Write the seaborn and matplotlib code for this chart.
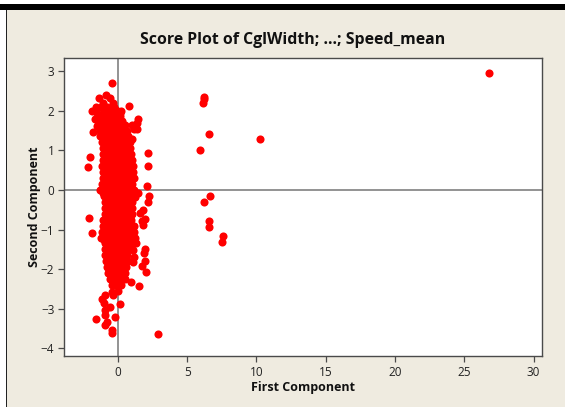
"""Score plot of the first two principal components."""

import matplotlib.pyplot as plt
import pandas as pd
import seaborn as sns
from matplotlib.patches import Rectangle

# far outliers to the right of the main cloud
outlier_x = [26.8, 6.2, 6.22, 6.15, 6.55, 5.95, 10.25, 6.65, 6.25, 6.6, 6.55, 7.6, 7.55, 2.87]
outlier_y = [2.95, 2.35, 2.3, 2.2, 1.42, 1.0, 1.28, -0.15, -0.3, -0.78, -0.93, -1.15, -1.32, -3.63]

# loose points around the edge of the cloud
edge_x = [-0.4, 0.81, 1.48, 1.36, 1.0, 1.41, 1.2, 1.02, 2.15, 2.15, 2.08, 2.27, 2.2, 1.84,
          -2.0, -2.15, 1.48, 1.23, -1.36, -0.87, -0.56, -0.32, -1.6, -1.84, -1.03, 0.2, 0.16,
          -1.77, -1.65, -1.5, -2.08, -1.86, -1.57, -0.92, -0.44, -0.44, -0.18, -0.92, -0.8,
          -0.92, -0.56, 0.16, -1.12, -0.92, -0.97, -0.44, -0.33, 0.04, 1.53, 0.95, -0.35,
          2.01, 1.72, 1.94, 1.92, 1.93, 1.07, 1.07, 1.17, 1.6, 1.96, 1.72, 1.84, 1.24, 1.31]
edge_y = [2.71, 2.13, 1.78, 1.68, 1.64, 1.53, 1.53, 1.29, 0.94, 0.6, 0.1, -0.15, -0.3, -0.5,
          0.83, 0.59, -0.07, -0.17, 2.31, 2.39, 2.32, 2.2, 2.1, 1.98, 2.2, 1.98, 1.87,
          1.47, 1.8, 1.62, -0.72, -1.09, -3.26, -3.41, -3.54, -3.6, -3.2, -3.15, -3.33,
          -3.03, -2.96, -2.88, -2.75, -2.65, -2.85, -2.57, -2.65, -2.54, -2.42, -2.31, -2.31,
          -2.06, -1.92, -1.8, -1.6, -1.49, -1.52, -1.83, -1.68, -0.57, -0.74, -0.78, -0.88, -1.22, -1.35]

# dense body of the cloud, read row by row from the top
row_y = [2.1, 1.95, 1.8, 1.65, 1.5, 1.35, 1.2, 1.05, 0.9, 0.75, 0.6, 0.45, 0.3, 0.15, 0.0, -0.15,
         -0.3, -0.45, -0.6, -0.75, -0.9, -1.05, -1.2, -1.35, -1.5, -1.65, -1.8, -1.95, -2.1, -2.25, -2.4]
row_x = [
    [-1.2, -0.75, -0.3],
    [-1.5, -0.9, -0.5, -0.1, 0.15],
    [-1.45, -0.7, -0.3, 0.1],
    [-1.4, -1.0, -0.6, -0.2, 0.2, 0.55],
    [-1.3, -0.9, -0.5, -0.1, 0.3, 0.7],
    [-1.25, -0.85, -0.45, -0.05, 0.35, 0.75],
    [-1.15, -0.75, -0.35, 0.05, 0.45, 0.85],
    [-1.1, -0.7, -0.3, 0.1, 0.5, 0.9],
    [-1.05, -0.65, -0.25, 0.15, 0.55, 0.95],
    [-1.1, -0.7, -0.3, 0.1, 0.5, 0.9, 1.05],
    [-1.15, -0.75, -0.35, 0.05, 0.45, 0.85, 1.1],
    [-1.05, -0.65, -0.25, 0.15, 0.55, 0.95, 1.1],
    [-1.1, -0.7, -0.3, 0.1, 0.5, 0.9, 1.15],
    [-1.15, -0.75, -0.35, 0.05, 0.45, 0.85, 1.05],
    [-1.25, -0.85, -0.45, -0.05, 0.35, 0.75, 1.2],
    [-1.0, -0.6, -0.2, 0.2, 0.6, 1.0, 1.15],
    [-0.95, -0.55, -0.15, 0.25, 0.65, 1.05],
    [-0.9, -0.5, -0.1, 0.3, 0.7, 1.05],
    [-0.95, -0.55, -0.15, 0.25, 0.65, 1.0],
    [-1.05, -0.65, -0.25, 0.15, 0.55, 0.95],
    [-1.1, -0.7, -0.3, 0.1, 0.5, 0.9, 1.15],
    [-1.15, -0.75, -0.35, 0.05, 0.45, 0.85, 1.15],
    [-1.2, -0.8, -0.4, 0.0, 0.4, 0.8, 1.1],
    [-0.95, -0.55, -0.15, 0.25, 0.65, 1.0],
    [-0.95, -0.55, -0.15, 0.25, 0.65, 0.85],
    [-0.9, -0.5, -0.1, 0.3, 0.7],
    [-0.85, -0.45, -0.05, 0.35, 0.75],
    [-0.8, -0.4, 0.0, 0.4, 0.6],
    [-0.7, -0.3, 0.1, 0.5],
    [-0.55, -0.2, 0.2, 0.5],
    [-0.45, -0.1, 0.2],
]

# points between those rows, closing the gaps in the solid part
core_y = [2.03, 1.88, 1.73, 1.58, 1.43, 1.28, 1.13, 0.98, 0.83, 0.68, 0.53, 0.38, 0.23, 0.08, -0.07, -0.22,
          -0.37, -0.52, -0.67, -0.82, -0.97, -1.12, -1.27, -1.42, -1.57, -1.72, -1.87, -2.02, -2.17, -2.32]
core_x = [
    [-1.0, -0.55, -0.1],
    [-1.2, -0.8, -0.35, 0.0],
    [-1.15, -0.85, -0.5, -0.1, 0.3],
    [-1.2, -0.8, -0.4, 0.0, 0.4],
    [-1.1, -0.7, -0.3, 0.1, 0.5],
    [-1.05, -0.65, -0.25, 0.15, 0.55],
    [-0.95, -0.55, -0.15, 0.25, 0.65],
    [-0.9, -0.5, -0.1, 0.3, 0.7],
    [-0.85, -0.45, -0.05, 0.35, 0.75],
    [-0.9, -0.5, -0.1, 0.3, 0.7],
    [-0.95, -0.55, -0.15, 0.25, 0.65],
    [-0.85, -0.45, -0.05, 0.35, 0.75],
    [-0.9, -0.5, -0.1, 0.3, 0.7],
    [-0.95, -0.55, -0.15, 0.25, 0.65, 0.95],
    [-1.05, -0.65, -0.25, 0.15, 0.55, 0.95],
    [-0.8, -0.4, 0.0, 0.4, 0.8],
    [-0.75, -0.35, 0.05, 0.45, 0.85],
    [-0.7, -0.3, 0.1, 0.5, 0.9],
    [-0.75, -0.35, 0.05, 0.45, 0.85],
    [-0.85, -0.45, -0.05, 0.35, 0.75],
    [-0.9, -0.5, -0.1, 0.3, 0.7],
    [-0.95, -0.55, -0.15, 0.25, 0.65, 1.0],
    [-1.0, -0.6, -0.2, 0.2, 0.6, 0.95],
    [-0.75, -0.35, 0.05, 0.45, 0.85],
    [-0.75, -0.35, 0.05, 0.45],
    [-0.7, -0.3, 0.1, 0.5],
    [-0.65, -0.25, 0.15, 0.55],
    [-0.6, -0.2, 0.2],
    [-0.5, -0.1, 0.3],
    [-0.3, 0.05],
]

title_text = "Score Plot of CglWidth; ...; Speed_mean"
xlabel_text = "First Component"
ylabel_text = "Second Component"
x_ticks = [0, 5, 10, 15, 20, 25, 30]
y_ticks = [-4, -3, -2, -1, 0, 1, 2, 3]

BACKGROUND = "#efebe0"
FRAME = "#4a4a4a"

sns.set_theme(style="white")
plt.rcParams["font.family"] = ["Open Sans", "DejaVu Sans"]

body_x = [x for xs in row_x + core_x for x in xs]
body_y = [y for y, xs in zip(row_y + core_y, row_x + core_x) for _ in xs]
scores = pd.DataFrame({
    "first": outlier_x + edge_x + body_x,
    "second": outlier_y + edge_y + body_y,
})

fig = plt.figure(figsize=(5.65, 4.07), dpi=100, facecolor=BACKGROUND)
ax = fig.add_axes([64 / 565, 51 / 407, 477.6 / 565, 298 / 407])

# window chrome from the screenshot: white strip, black bar, black left edge
fig.add_artist(Rectangle((0, 1 - 4 / 407), 1, 4 / 407, transform=fig.transFigure, color="white", lw=0))
fig.add_artist(Rectangle((0, 1 - 10 / 407), 1, 6 / 407, transform=fig.transFigure, color="black", lw=0))
fig.add_artist(Rectangle((0, 0), 6 / 565, 1 - 10 / 407, transform=fig.transFigure, color="white", lw=0))
fig.add_artist(Rectangle((6 / 565, 0), 1 / 565, 1 - 10 / 407, transform=fig.transFigure, color="#222222", lw=0))

ax.axhline(0, color="#808080", lw=1.2, zorder=1)
ax.axvline(0, color="#808080", lw=1.2, zorder=1)
sns.scatterplot(data=scores, x="first", y="second", color="#ff0000", s=34, linewidth=0, ax=ax, zorder=2)

ax.set_xlim(-3.88, 30.58)
ax.set_ylim(-4.19, 3.33)
ax.set_xticks(x_ticks)
ax.set_yticks(y_ticks)
ax.tick_params(length=4, width=0.9, color=FRAME, labelsize=8.5, labelcolor="#222222", pad=3, bottom=True, left=True)
for spine in ax.spines.values():
    spine.set_color(FRAME)
    spine.set_linewidth(1.0)

ax.set_xlabel(xlabel_text, fontsize=9, fontweight="bold", color="#111111", labelpad=1.5)
ax.set_ylabel(ylabel_text, fontsize=9, fontweight="bold", color="#111111", labelpad=0)
fig.text(293 / 565, 1 - 39.5 / 407, title_text, ha="center", va="center", fontsize=11.4, fontweight="bold", color="#111111")

fig.savefig("out.png", dpi=100, facecolor=fig.get_facecolor())
